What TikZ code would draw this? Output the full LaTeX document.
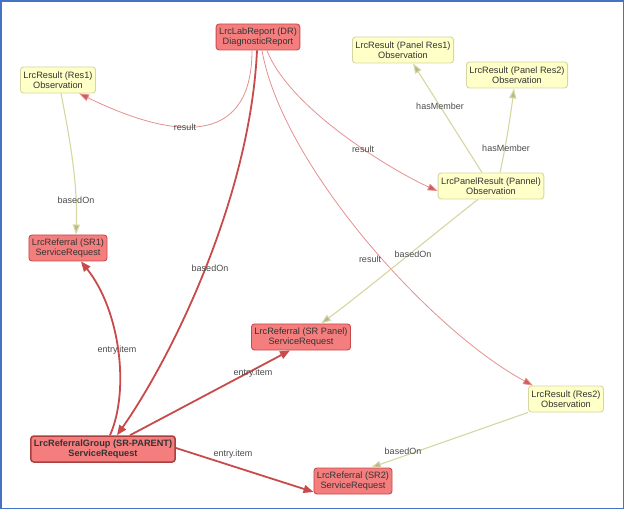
\documentclass[tikz,border=0pt]{standalone}
\usepackage{fontspec}
\setmainfont{Liberation Sans}
\usetikzlibrary{arrows.meta}
\definecolor{redfill}{HTML}{F47E7E}
\definecolor{redline}{HTML}{C84A4A}
\definecolor{lightred}{HTML}{E49090}
\definecolor{yelfill}{HTML}{FFFFC8}
\definecolor{yelline}{HTML}{D6D6A2}
\definecolor{txt}{HTML}{333333}
\definecolor{lbltxt}{HTML}{4A4A4A}
\definecolor{frame}{HTML}{4472C4}
\tikzset{
  box/.style={rounded corners=3pt, align=center, inner xsep=3pt, inner ysep=2pt,
    minimum height=26pt, text=txt, font=\fontsize{9.2}{10}\selectfont},
  redbox/.style={box, fill=redfill, draw=redline, line width=0.9pt},
  parentbox/.style={box, fill=redfill, draw=redline!85!black, line width=1.5pt,
    font=\fontsize{9.2}{10}\selectfont\bfseries},
  yelbox/.style={box, fill=yelfill, draw=yelline, line width=0.9pt},
  lbl/.style={text=lbltxt, font=\fontsize{9}{10}\selectfont, inner sep=0.5pt},
  thinred/.style={draw=lightred, line width=0.8pt, -{Triangle[length=10pt,width=7pt,fill=redline!90!white]}},
  thickred/.style={draw=redline, line width=1.8pt, -{Triangle[length=10pt,width=8pt]}},
  yelarrow/.style={draw=yelline, line width=1.1pt, -{Triangle[length=10pt,width=7pt,fill=yelline!85!black]}}
}
\begin{document}
\begin{tikzpicture}[x=1pt,y=-1pt]
\useasboundingbox (0,0) rectangle (626,510);
\draw[frame, line width=1.6pt] (1,1) rectangle (623.5,508.5);

% nodes
\node[redbox] (dr) at (258,37) {LrcLabReport (DR)\\DiagnosticReport};
\node[yelbox] (res1) at (58,80) {LrcResult (Res1)\\Observation};
\node[redbox] (sr1) at (68,248) {LrcReferral (SR1)\\ServiceRequest};
\node[yelbox] (pres1) at (403,50) {LrcResult (Panel Res1)\\Observation};
\node[yelbox] (pres2) at (517,75) {LrcResult (Panel Res2)\\Observation};
\node[yelbox] (pannel) at (491,186) {LrcPanelResult (Pannel)\\Observation};
\node[redbox] (srpanel) at (301,337) {LrcReferral (SR Panel)\\ServiceRequest};
\node[parentbox] (parent) at (103,449) {LrcReferralGroup (SR-PARENT)\\ServiceRequest};
\node[yelbox] (res2) at (566,399) {LrcResult (Res2)\\Observation};
\node[redbox] (sr2) at (353,481) {LrcReferral (SR2)\\ServiceRequest};

% edges from DR
\draw[thinred] ([xshift=-6pt]dr.south) .. controls (252,140) and (185,145) .. ([xshift=21pt]res1.south);
\draw[thickred] ([xshift=-1pt]dr.south) .. controls (250,200) and (170,360) .. ([xshift=14pt]parent.north);
\draw[thinred] ([xshift=4pt]dr.south) .. controls (282,165) and (430,330) .. ([xshift=-33pt]res2.north);
\draw[thinred] ([xshift=9pt]dr.south) .. controls (290,110) and (395,172) .. ([yshift=-5pt]pannel.west);

% edges from observations
\draw[yelarrow] ([xshift=3pt]res1.south) .. controls (68,130) and (78,180) .. ([xshift=8pt]sr1.north);
\draw[yelarrow] ([xshift=-9pt]pannel.north) -- ([xshift=10pt]pres1.south);
\draw[yelarrow] ([xshift=9pt]pannel.north) .. controls (505,150) and (510,120) .. ([xshift=-3pt]pres2.south);
\draw[yelarrow] ([xshift=-13pt]pannel.south) .. controls (445,225) and (360,295) .. ([xshift=20pt]srpanel.north);
\draw[yelarrow] (res2.south west) -- ([xshift=18pt]sr2.north);

% edges from SR-PARENT
\draw[thickred] ([xshift=7pt]parent.north) .. controls (130,390) and (120,310) .. ([xshift=13pt]sr1.south);
\draw[thickred] ([xshift=27pt]parent.north) -- ([xshift=-11pt]srpanel.south);
\draw[thickred] ([yshift=1pt]parent.east) -- ([yshift=-11pt]sr2.west);

% labels
\node[lbl] (l1) at (185,127) {result};
\node[lbl] (l2) at (363,149) {result};
\node[lbl] (l3) at (370,259) {result};
\node[lbl] (l4) at (210,268) {basedOn};
\node[lbl] (l5) at (76,200) {basedOn};
\node[lbl] (l6) at (440,106) {hasMember};
\node[lbl] (l7) at (506,148) {hasMember};
\node[lbl] (l8) at (413,254) {basedOn};
\node[lbl] (l9) at (403,451) {basedOn};
\node[lbl] (l10) at (117,350) {entry.item};
\node[lbl] (l11) at (253,373) {entry.item};
\node[lbl] (l12) at (233,454) {entry.item};
\end{tikzpicture}
\end{document}
